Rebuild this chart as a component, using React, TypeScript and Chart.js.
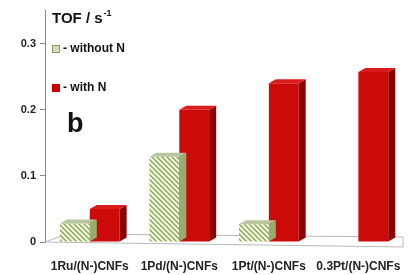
import React, { useEffect, useRef } from "react";
import { Chart, registerables } from "chart.js";

Chart.register(...registerables);

const categories = ["1Ru/(N-)CNFs", "1Pd/(N-)CNFs", "1Pt/(N-)CNFs", "0.3Pt/(N-)CNFs"];
const withoutN: (number | null)[] = [0.028, 0.129, 0.027, null];
const withN: number[] = [0.05, 0.2, 0.24, 0.257];
const yTicks = [0, 0.1, 0.2, 0.3];
const legendLabels = ["- without N", "- with N"];
const titleText = "TOF / s";
const titleSup = "-1";
const panelLabel = "b";

const FONT = "'Liberation Sans', Arial, Helvetica, sans-serif";

function makeHatch(ctx: CanvasRenderingContext2D): CanvasPattern | string {
  const c = document.createElement("canvas");
  c.width = 5;
  c.height = 5;
  const p = c.getContext("2d");
  if (!p) return "#dfe8c4";
  p.fillStyle = "#f3f6e6";
  p.fillRect(0, 0, 5, 5);
  p.strokeStyle = "#86a448";
  p.lineWidth = 1.3;
  p.beginPath();
  p.moveTo(-1, -1);
  p.lineTo(6, 6);
  p.moveTo(-1, 4);
  p.lineTo(1, 6);
  p.moveTo(4, -1);
  p.lineTo(6, 1);
  p.stroke();
  return ctx.createPattern(c, "repeat") || "#dfe8c4";
}

const DX = 7;
const DY = -4;

const depthPlugin = {
  id: "depth3d",
  beforeDatasetsDraw(chart: any) {
    const { ctx, chartArea } = chart;
    const { left, right, bottom } = chartArea;
    ctx.save();
    ctx.strokeStyle = "#b8b8b8";
    ctx.lineWidth = 1;
    ctx.beginPath();
    ctx.moveTo(left, bottom);
    ctx.lineTo(left + 22, bottom - 8);
    ctx.lineTo(right, bottom - 5);
    ctx.lineTo(right, bottom + 5);
    ctx.lineTo(left, bottom);
    ctx.stroke();
    ctx.restore();
  },
  afterDatasetsDraw(chart: any) {
    const { ctx } = chart;
    const colors = [
      { top: "#b9c59c", side: "#9aab70" },
      { top: "#d81c1c", side: "#8c0000" },
    ];
    ctx.save();
    chart.data.datasets.forEach((ds: any, di: number) => {
      const meta = chart.getDatasetMeta(di);
      meta.data.forEach((el: any, i: number) => {
        if (ds.data[i] == null) return;
        const { x, y, base, width } = el.getProps(["x", "y", "base", "width"], true);
        const l = x - width / 2;
        const r = x + width / 2;
        ctx.fillStyle = colors[di].side;
        ctx.beginPath();
        ctx.moveTo(r, y);
        ctx.lineTo(r + DX, y + DY);
        ctx.lineTo(r + DX, base + DY);
        ctx.lineTo(r, base);
        ctx.closePath();
        ctx.fill();
        ctx.fillStyle = colors[di].top;
        ctx.beginPath();
        ctx.moveTo(l, y);
        ctx.lineTo(l + DX, y + DY);
        ctx.lineTo(r + DX, y + DY);
        ctx.lineTo(r, y);
        ctx.closePath();
        ctx.fill();
      });
    });
    ctx.restore();
  },
  afterDraw(chart: any) {
    const { ctx } = chart;
    ctx.save();
    ctx.fillStyle = "#111";
    ctx.textBaseline = "alphabetic";
    ctx.font = `bold 15px ${FONT}`;
    ctx.fillText(titleText, 52, 23);
    const w = ctx.measureText(titleText).width;
    ctx.font = `bold 9px ${FONT}`;
    ctx.fillText(titleSup, 52 + w + 1, 16);
    // legend
    ctx.fillStyle = "#d3ddb5";
    ctx.fillRect(52, 45, 8, 8);
    ctx.strokeStyle = "#8e9e66";
    ctx.lineWidth = 1;
    ctx.strokeRect(52.5, 45.5, 7, 7);
    ctx.fillStyle = "#cc0000";
    ctx.fillRect(52, 84, 8, 8);
    ctx.fillStyle = "#111";
    ctx.font = `bold 12px ${FONT}`;
    ctx.textBaseline = "middle";
    ctx.fillText(legendLabels[0], 63, 49);
    ctx.fillText(legendLabels[1], 63, 88);
    ctx.font = `bold 27px ${FONT}`;
    ctx.textBaseline = "alphabetic";
    ctx.fillText(panelLabel, 67, 132);
    ctx.restore();
  },
};

export default function App() {
  const ref = useRef<HTMLCanvasElement | null>(null);
  useEffect(() => {
    document.body.style.margin = "0";
    const canvas = ref.current;
    if (!canvas) return;
    const ctx = canvas.getContext("2d");
    if (!ctx) return;
    const hatch = makeHatch(ctx);
    const chart = new Chart(canvas, {
      type: "bar",
      data: {
        labels: categories,
        datasets: [
          {
            label: legendLabels[0],
            data: withoutN,
            backgroundColor: hatch as any,
            borderColor: "#9aab70",
            borderWidth: 0,
            barPercentage: 1,
            categoryPercentage: 0.667,
          },
          {
            label: legendLabels[1],
            data: withN,
            backgroundColor: "#cc0a0a",
            borderWidth: 0,
            barPercentage: 1,
            categoryPercentage: 0.667,
          },
        ],
      },
      options: {
        animation: false,
        responsive: false,
        maintainAspectRatio: false,
        layout: { padding: { top: 8, right: 5, left: 0, bottom: 0 } },
        plugins: {
          legend: { display: false },
          tooltip: { enabled: false },
          title: { display: false },
        },
        scales: {
          x: {
            grid: { display: false },
            border: { display: false },
            ticks: {
              color: "#222",
              padding: 9,
              maxRotation: 0,
              autoSkip: false,
              font: { family: FONT, size: 12, weight: "bold" },
            },
            afterFit(scale: any) {
              scale.height = 33;
            },
          },
          y: {
            min: 0,
            max: 0.35,
            afterBuildTicks(scale: any) {
              scale.ticks = yTicks.map((v) => ({ value: v }));
            },
            ticks: {
              color: "#222",
              padding: 4,
              font: { family: FONT, size: 11, weight: "bold" },
              callback: (v: any) => (v === 0 ? "0" : Number(v).toFixed(1)),
            },
            grid: { drawOnChartArea: false, tickLength: 5, color: "#888" },
            border: { color: "#888", width: 1 },
            afterFit(scale: any) {
              scale.width = 45;
            },
          },
        },
      },
      plugins: [depthPlugin],
    });
    return () => chart.destroy();
  }, []);
  return (
    <div style={{ position: "relative", width: 410, height: 275, background: "#fff" }}>
      <canvas ref={ref} width={410} height={275} style={{ width: 410, height: 275 }} />
    </div>
  );
}
